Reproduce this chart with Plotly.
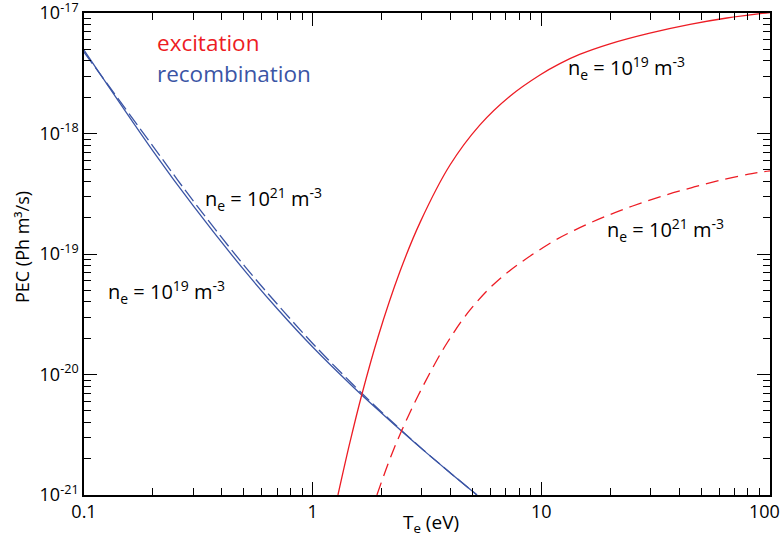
import plotly.graph_objects as go

# Recombination (blue)
T_rec = [0.1, 0.2, 0.303, 0.506, 0.705, 1.0, 1.5, 2.01, 3.03, 4.06, 5.23]
pec_rec_19 = [4.93e-18, 7.19e-19, 2.46e-19, 7.20e-20, 3.46e-20, 1.69e-20,
              7.92e-21, 4.75e-21, 2.38e-21, 1.49e-21, 1.0e-21]
pec_rec_21 = [4.74e-18, 7.87e-19, 2.70e-19, 7.87e-20, 3.78e-20, 1.81e-20,
              8.26e-21, 4.84e-21, 2.39e-21, 1.49e-21, 1.0e-21]

# Excitation (red), ne = 1e19
T_exc_19 = [1.29, 1.455, 1.643, 1.93, 2.41, 2.95, 3.98, 5.39, 7.29, 9.86, 12.05,
            14.7, 19.95, 29.8, 44.7, 64.8, 100]
pec_exc_19 = [1.0e-21, 2.73e-21, 6.89e-21, 2.04e-20, 7.18e-20, 1.83e-19, 5.45e-19,
              1.18e-18, 2.04e-18, 3.06e-18, 3.80e-18, 4.53e-18, 5.55e-18,
              6.81e-18, 8.05e-18, 9.09e-18, 1.01e-17]

# Excitation (red), ne = 1e21
T_exc_21 = [1.91, 2.24, 2.72, 3.36, 3.90, 4.87, 6.59, 10.7, 14.0,
            18.6, 24.9, 33.7, 45.6, 61.7, 83.4, 100]
pec_exc_21 = [1.0e-21, 2.29e-21, 5.26e-21, 1.15e-20, 1.87e-20, 3.42e-20,
              6.24e-20, 1.20e-19, 1.58e-19, 2.01e-19, 2.49e-19, 3.02e-19,
              3.56e-19, 4.12e-19, 4.65e-19, 4.89e-19]

x_ticks = [0.1, 1, 10, 100]
x_ticktext = ["0.1", "1", "10", "100"]
y_ticks = [1e-21, 1e-20, 1e-19, 1e-18, 1e-17]
y_ticktext = ["10<sup>-21</sup>", "10<sup>-20</sup>", "10<sup>-19</sup>",
              "10<sup>-18</sup>", "10<sup>-17</sup>"]

BLUE = "#3b55a5"
RED = "#ed1c24"
FONT = "Open Sans"

x_minor = [m * 10**e for e in (-1, 0, 1) for m in range(2, 10)]
y_minor = [m * 10.0**e for e in (-21, -20, -19, -18) for m in range(2, 10)]

fig = go.Figure()
fig.add_trace(go.Scatter(x=T_rec, y=pec_rec_19, mode="lines",
                         line=dict(color=BLUE, width=1.3, shape="spline")))
fig.add_trace(go.Scatter(x=T_rec, y=pec_rec_21, mode="lines",
                         line=dict(color=BLUE, width=1.3, dash="14px,5px", shape="spline")))
fig.add_trace(go.Scatter(x=T_exc_19, y=pec_exc_19, mode="lines",
                         line=dict(color=RED, width=1.3, shape="spline")))
fig.add_trace(go.Scatter(x=T_exc_21, y=pec_exc_21, mode="lines",
                         line=dict(color=RED, width=1.3, dash="13px,7px", shape="spline")))

axis_common = dict(
    showgrid=False, zeroline=False, showline=True, linecolor="black", linewidth=1.5,
    mirror="allticks", ticks="inside", ticklen=13, tickwidth=1.3, tickcolor="black",
    tickfont=dict(family=FONT, size=18, color="black"), automargin=False,
    ticklabeloverflow="allow",
)

# last x tick label is drawn separately so it stays inside the page
x_ticktext_axis = x_ticktext[:-1] + [""]

fig.update_xaxes(type="log", range=[-1, 2], tickmode="array", tickvals=x_ticks,
                 ticktext=x_ticktext_axis,
                 minor=dict(tickmode="array", tickvals=x_minor, ticks="inside",
                            ticklen=7, tickwidth=1.2, tickcolor="black"),
                 **axis_common)
fig.update_yaxes(type="log", range=[-21, -17], tickmode="array", tickvals=y_ticks,
                 ticktext=y_ticktext,
                 minor=dict(tickmode="array", tickvals=y_minor, ticks="inside",
                            ticklen=7, tickwidth=1.2, tickcolor="black"),
                 **axis_common)

L, R, T, B = 84, 770, 13, 495
W, H = 783, 546


def px(x, y):
    return (x - L) / (R - L), (B - y) / (B - T)


def ann(text, x, y, color="black", size=20, xanchor="left", angle=0):
    ax, ay = px(x, y)
    fig.add_annotation(text=text, x=ax, y=ay, xref="paper", yref="paper",
                       xanchor=xanchor, yanchor="middle", showarrow=False,
                       textangle=angle,
                       font=dict(family=FONT, size=size, color=color))


# last x tick label, nudged inside the page like the reference
ann(x_ticktext[-1], 782, 511, size=18, xanchor="right")

# axis titles
ann("T<sub>e</sub> (eV)", 431, 523, size=19, xanchor="center")
ann("PEC (Ph m³/s)", 22, 247, size=18, xanchor="center", angle=-90)

ann("excitation", 155, 42, RED, 22.5)
ann("recombination", 155, 73, BLUE, 22.5)
ne19 = "n<sub>e</sub> = 10<sup>19</sup> m<sup>-3</sup>"
ne21 = "n<sub>e</sub> = 10<sup>21</sup> m<sup>-3</sup>"
ann(ne19, 566, 68)
ann(ne21, 203, 199)
ann(ne19, 106, 292)
ann(ne21, 605, 230)

fig.update_layout(
    width=W, height=H, showlegend=False,
    margin=dict(l=L, r=W - R, t=T, b=H - B),
    paper_bgcolor="white", plot_bgcolor="white",
)

fig.write_html("out.html")
